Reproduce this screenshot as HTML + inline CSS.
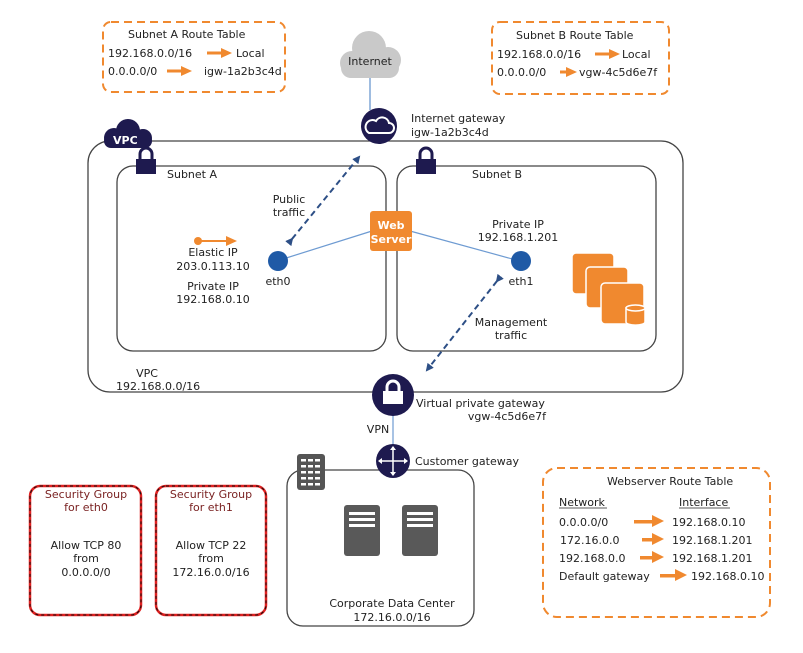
<!DOCTYPE html>
<html><head><meta charset="utf-8"><style>
html,body{margin:0;padding:0;background:#fff;}
svg{display:block;font-family:"DejaVu Sans","Liberation Sans",sans-serif;}
text{font-size:11px;fill:#222;}
</style></head><body>
<svg width="803" height="653" viewBox="0 0 803 653" xmlns="http://www.w3.org/2000/svg">
<defs>
<marker id="ah" markerWidth="8" markerHeight="8" refX="6" refY="4" orient="auto" markerUnits="userSpaceOnUse"><path d="M0,0 L8,4 L0,8 z" fill="#2d4f86"/></marker>
</defs>
<!-- route tables -->
<rect x="103" y="22" width="182" height="70" rx="8" fill="none" stroke="#f0892f" stroke-width="2" stroke-dasharray="8,5"/>
<text x="128" y="38">Subnet A Route Table</text>
<text x="108" y="57">192.168.0.0/16</text>
<path d="M207,53 h16" stroke="#f0892f" stroke-width="3"/><path d="M221,48 l11,5 l-11,5z" fill="#f0892f"/>
<text x="236" y="57">Local</text>
<text x="108" y="75">0.0.0.0/0</text>
<path d="M167,71 h16" stroke="#f0892f" stroke-width="3"/><path d="M181,66 l11,5 l-11,5z" fill="#f0892f"/>
<text x="204" y="75">igw-1a2b3c4d</text>

<rect x="492" y="22" width="177" height="72" rx="8" fill="none" stroke="#f0892f" stroke-width="2" stroke-dasharray="8,5"/>
<text x="516" y="39">Subnet B Route Table</text>
<text x="497" y="58">192.168.0.0/16</text>
<path d="M595,54 h16" stroke="#f0892f" stroke-width="3"/><path d="M609,49 l11,5 l-11,5z" fill="#f0892f"/>
<text x="622" y="58">Local</text>
<text x="497" y="76">0.0.0.0/0</text>
<path d="M560,72 h8" stroke="#f0892f" stroke-width="3"/><path d="M566,67 l11,5 l-11,5z" fill="#f0892f"/>
<text x="579" y="76">vgw-4c5d6e7f</text>

<!-- internet cloud -->
<g fill="#c9c9c9">
<circle cx="352" cy="63" r="12"/><circle cx="369" cy="48" r="17"/><circle cx="388" cy="60" r="13"/>
<rect x="341" y="58" width="58" height="20" rx="10"/>
</g>
<text x="370" y="65" text-anchor="middle" fill="#333">Internet</text>
<line x1="370" y1="78" x2="370" y2="110" stroke="#7fa6d6" stroke-width="1.5"/>

<!-- VPC -->
<rect x="88" y="141" width="595" height="251" rx="22" fill="none" stroke="#444" stroke-width="1.3"/>
<g fill="#1e1a4f">
<circle cx="114" cy="138" r="10"/><circle cx="128" cy="131" r="12"/><circle cx="143" cy="138" r="9"/>
<rect x="104" y="134" width="48" height="14" rx="7"/>
</g>
<text x="113" y="144" font-weight="bold" font-size="13" style="fill:#fff">VPC</text>

<!-- subnets -->
<rect x="117" y="166" width="269" height="185" rx="16" fill="#fff" stroke="#444" stroke-width="1.3"/>
<rect x="397" y="166" width="259" height="185" rx="16" fill="#fff" stroke="#444" stroke-width="1.3"/>
<g fill="#1e1a4f">
<path d="M140,160 v-6 a6,6 0 0 1 12,0 v6" fill="none" stroke="#1e1a4f" stroke-width="3"/>
<rect x="136" y="159" width="20" height="15"/>
<path d="M420,160 v-6 a6,6 0 0 1 12,0 v6" fill="none" stroke="#1e1a4f" stroke-width="3"/>
<rect x="416" y="159" width="20" height="15"/>
</g>
<text x="167" y="178">Subnet A</text>
<text x="472" y="178">Subnet B</text>

<!-- IGW -->
<circle cx="379" cy="126" r="18" fill="#1e1a4f"/>
<path d="M369,133 h20 a5,5 0 0 0 0,-10 a7,7 0 0 0 -13,-2 a5,5 0 0 0 -7,12z" fill="none" stroke="#fff" stroke-width="2"/>
<text x="411" y="122">Internet gateway</text>
<text x="411" y="136">igw-1a2b3c4d</text>

<!-- connection lines -->
<line x1="283" y1="259" x2="372" y2="231" stroke="#6e9bd2" stroke-width="1.2"/>
<line x1="410" y1="231" x2="516" y2="260" stroke="#6e9bd2" stroke-width="1.2"/>
<rect x="370" y="211" width="42" height="40" rx="3" fill="#f0892f"/>
<text x="391" y="229" text-anchor="middle" font-weight="bold" font-size="11" style="fill:#fff">Web</text>
<text x="391" y="243" text-anchor="middle" font-weight="bold" font-size="11" style="fill:#fff">Server</text>
<circle cx="278" cy="261" r="10" fill="#1f5aa6"/>
<circle cx="521" cy="261" r="10" fill="#1f5aa6"/>
<text x="278" y="285" text-anchor="middle">eth0</text>
<text x="521" y="285" text-anchor="middle">eth1</text>

<line x1="292" y1="239" x2="359" y2="157" stroke="#2d4f86" stroke-width="2" stroke-dasharray="6,4" marker-start="url(#ah)" marker-end="url(#ah)"/>
<line x1="497" y1="281" x2="427" y2="370" stroke="#2d4f86" stroke-width="2" stroke-dasharray="6,4" marker-start="url(#ah)" marker-end="url(#ah)"/>
<text x="289" y="203" text-anchor="middle">Public</text>
<text x="289" y="216" text-anchor="middle">traffic</text>
<text x="511" y="326" text-anchor="middle">Management</text>
<text x="511" y="339" text-anchor="middle">traffic</text>

<circle cx="198" cy="241" r="4" fill="#f0892f"/>
<line x1="198" y1="241" x2="228" y2="241" stroke="#f0892f" stroke-width="2"/>
<path d="M226,236 l11,5 l-11,5z" fill="#f0892f"/>
<text x="213" y="256" text-anchor="middle">Elastic IP</text>
<text x="213" y="270" text-anchor="middle">203.0.113.10</text>
<text x="213" y="290" text-anchor="middle">Private IP</text>
<text x="213" y="303" text-anchor="middle">192.168.0.10</text>
<text x="518" y="228" text-anchor="middle">Private IP</text>
<text x="518" y="241" text-anchor="middle">192.168.1.201</text>

<!-- instances -->
<g fill="#f0892f" stroke="#fff" stroke-width="1.5">
<rect x="572" y="253" width="42" height="41" rx="4"/>
<rect x="586" y="267" width="42" height="41" rx="4"/>
<rect x="601" y="283" width="43" height="41" rx="4"/>
<path d="M626,308 v14 a9,3 0 0 0 19,0 v-14z"/>
<ellipse cx="635.5" cy="308" rx="9.5" ry="3"/>
</g>

<text x="147" y="377" text-anchor="middle">VPC</text>
<text x="116" y="390">192.168.0.0/16</text>

<!-- VGW -->
<line x1="393" y1="412" x2="393" y2="450" stroke="#6e9bd2" stroke-width="1.2"/>
<circle cx="393" cy="395" r="21" fill="#1e1a4f"/>
<path d="M387,392 v-5 a6,6 0 0 1 12,0 v5" fill="none" stroke="#fff" stroke-width="3"/>
<rect x="383" y="391" width="20" height="13" fill="#fff"/>
<text x="416" y="407">Virtual private gateway</text>
<text x="546" y="420" text-anchor="end">vgw-4c5d6e7f</text>
<text x="378" y="433" text-anchor="middle">VPN</text>

<!-- Corporate DC -->
<rect x="287" y="470" width="187" height="156" rx="16" fill="#fff" stroke="#444" stroke-width="1.3"/>
<rect x="297" y="454" width="28" height="36" rx="3" fill="#555"/>
<g fill="#fff">
<rect x="301" y="459" width="5" height="2.5"/><rect x="308" y="459" width="5" height="2.5"/><rect x="315" y="459" width="5" height="2.5"/>
<rect x="301" y="465" width="5" height="2.5"/><rect x="308" y="465" width="5" height="2.5"/><rect x="315" y="465" width="5" height="2.5"/>
<rect x="301" y="471" width="5" height="2.5"/><rect x="308" y="471" width="5" height="2.5"/><rect x="315" y="471" width="5" height="2.5"/>
<rect x="301" y="477" width="5" height="2.5"/><rect x="308" y="477" width="5" height="2.5"/><rect x="315" y="477" width="5" height="2.5"/>
<rect x="301" y="483" width="5" height="2.5"/><rect x="308" y="483" width="5" height="2.5"/><rect x="315" y="483" width="5" height="2.5"/>
</g>
<circle cx="393" cy="461" r="17" fill="#1e1a4f"/>
<g stroke="#fff" stroke-width="1.5"><line x1="393" y1="447" x2="393" y2="475"/><line x1="379" y1="461" x2="407" y2="461"/></g>
<g fill="#fff"><path d="M393,446 l-3,4 h6z"/><path d="M393,476 l-3,-4 h6z"/><path d="M378,461 l4,-3 v6z"/><path d="M408,461 l-4,-3 v6z"/></g>
<text x="415" y="465">Customer gateway</text>
<rect x="344" y="505" width="36" height="51" rx="3" fill="#595959"/>
<rect x="402" y="505" width="36" height="51" rx="3" fill="#595959"/>
<g fill="#fff"><rect x="349" y="512" width="26" height="3"/><rect x="349" y="518" width="26" height="3"/><rect x="349" y="524" width="26" height="3"/>
<rect x="407" y="512" width="26" height="3"/><rect x="407" y="518" width="26" height="3"/><rect x="407" y="524" width="26" height="3"/></g>
<text x="392" y="607" text-anchor="middle">Corporate Data Center</text>
<text x="392" y="621" text-anchor="middle">172.16.0.0/16</text>

<!-- security groups -->
<rect x="30" y="486" width="111" height="129" rx="10" fill="none" stroke="#e02020" stroke-width="2.5"/>
<rect x="30" y="486" width="111" height="129" rx="10" fill="none" stroke="#111" stroke-width="1" stroke-dasharray="3,3"/>
<rect x="156" y="486" width="110" height="129" rx="10" fill="none" stroke="#e02020" stroke-width="2.5"/>
<rect x="156" y="486" width="110" height="129" rx="10" fill="none" stroke="#111" stroke-width="1" stroke-dasharray="3,3"/>
<g font-size="10.5">
<text x="86" y="498" text-anchor="middle" style="fill:#7a2222">Security Group</text>
<text x="86" y="511" text-anchor="middle" style="fill:#7a2222">for eth0</text>
<text x="211" y="498" text-anchor="middle" style="fill:#7a2222">Security Group</text>
<text x="211" y="511" text-anchor="middle" style="fill:#7a2222">for eth1</text>
</g>
<text x="86" y="549" text-anchor="middle">Allow TCP 80</text>
<text x="86" y="562" text-anchor="middle">from</text>
<text x="86" y="576" text-anchor="middle">0.0.0.0/0</text>
<text x="211" y="549" text-anchor="middle">Allow TCP 22</text>
<text x="211" y="562" text-anchor="middle">from</text>
<text x="211" y="576" text-anchor="middle">172.16.0.0/16</text>

<!-- webserver route table -->
<rect x="543" y="468" width="227" height="149" rx="14" fill="none" stroke="#f0892f" stroke-width="2" stroke-dasharray="8,5"/>
<text x="607" y="485">Webserver Route Table</text>
<text x="559" y="506">Network</text>
<text x="679" y="506">Interface</text>
<line x1="559" y1="508" x2="607" y2="508" stroke="#222" stroke-width="0.8"/>
<line x1="679" y1="508" x2="730" y2="508" stroke="#222" stroke-width="0.8"/>
<text x="559" y="526">0.0.0.0/0</text>
<text x="560" y="544">172.16.0.0</text>
<text x="559" y="562">192.168.0.0</text>
<text x="559" y="580">Default gateway</text>
<g fill="#f0892f">
<rect x="634" y="520" width="20" height="3.5"/><path d="M652,515 l12,6 l-12,6z"/>
<rect x="642" y="538" width="12" height="3.5"/><path d="M652,533 l12,6 l-12,6z"/>
<rect x="640" y="556" width="14" height="3.5"/><path d="M652,551 l12,6 l-12,6z"/>
<rect x="660" y="574" width="17" height="3.5"/><path d="M675,569 l12,6 l-12,6z"/>
</g>
<text x="672" y="526">192.168.0.10</text>
<text x="672" y="544">192.168.1.201</text>
<text x="672" y="562">192.168.1.201</text>
<text x="691" y="580">192.168.0.10</text>
</svg>
</body></html>
